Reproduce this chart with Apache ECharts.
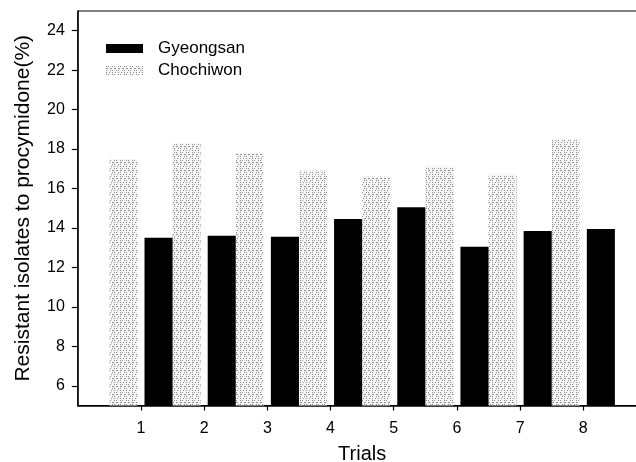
<!DOCTYPE html>
<html>
<head>
<meta charset="utf-8">
<script src="https://cdn.jsdelivr.net/npm/echarts@6/dist/echarts.min.js"></script>
<style>
html,body{margin:0;padding:0;background:#fff;}
#chart{width:636px;height:462px;}
</style>
</head>
<body>
<div id="chart"></div>
<script>
// Data
const trials = ['1', '2', '3', '4', '5', '6', '7', '8'];
const gyeongsan = [13.5, 13.6, 13.55, 14.45, 15.05, 13.05, 13.85, 13.95];
const chochiwon = [17.5, 18.3, 17.8, 16.9, 16.6, 17.1, 16.7, 18.5];
const yTicks = [6, 8, 10, 12, 14, 16, 18, 20, 22, 24];

// padded category axis: an empty slot at each end
const cats = [''].concat(trials, ['']);
const pad = arr => ['-'].concat(arr, ['-']);

const FONT = 'Liberation Sans, Arial, sans-serif';
const chart = echarts.init(document.getElementById('chart'), null, {renderer: 'canvas'});
chart.setOption({
  backgroundColor: '#ffffff',
  animation: false,
  grid: {
    left: 77.8, top: 11, width: 568.7, height: 394.5,
    outerBoundsMode: 'none',
    containLabel: false,
    show: true, borderColor: '#000', borderWidth: 1, backgroundColor: 'transparent'
  },
  legend: {
    orient: 'vertical', left: 106, top: 40, padding: 0,
    itemWidth: 37, itemHeight: 9, itemGap: 5,
    icon: 'rect',
    data: ['Gyeongsan', 'Chochiwon'],
    textStyle: {fontFamily: FONT, fontSize: 17, color: '#000', padding: [0, 0, 0, 10]}
  },
  xAxis: {
    type: 'category',
    data: cats,
    boundaryGap: false,
    name: 'Trials',
    nameLocation: 'middle',
    nameGap: 39,
    nameTextStyle: {fontFamily: FONT, fontSize: 20, color: '#000'},
    axisLine: {lineStyle: {color: '#000', width: 1.5}},
    axisTick: {show: true, length: 5, lineStyle: {color: '#000', width: 1.2},
      interval: (i, v) => v !== ''},
    axisLabel: {fontFamily: FONT, fontSize: 16, color: '#000', margin: 15, interval: 0},
    splitLine: {show: false}
  },
  yAxis: {
    type: 'value',
    min: 5, max: 25,
    name: 'Resistant isolates to procymidone(%)',
    nameLocation: 'middle',
    nameGap: 44,
    nameTextStyle: {fontFamily: FONT, fontSize: 21, color: '#000'},
    axisLine: {show: true, lineStyle: {color: '#000', width: 1.5}},
    axisTick: {show: true, length: 6, lineStyle: {color: '#000', width: 1.2}, customValues: yTicks},
    axisLabel: {fontFamily: FONT, fontSize: 16, color: '#000', margin: 13, customValues: yTicks},
    splitLine: {show: false}
  },
  series: [
    {
      name: 'Chochiwon',
      type: 'bar',
      data: pad(chochiwon),
      barGap: '25%',
      barCategoryGap: '0%',
      itemStyle: {
        color: '#f6f6f6',
        decal: {
          symbol: 'rect',
          symbolSize: 1,
          color: '#8f8f8f',
          dashArrayX: [[1, 2], [1, 1, 1, 3], [2, 2], [1, 3, 1, 1]],
          dashArrayY: [1, 1],
          rotation: 0
        }
      }
    },
    {
      name: 'Gyeongsan',
      type: 'bar',
      data: pad(gyeongsan),
      barGap: '25%',
      barCategoryGap: '0%',
      itemStyle: {color: '#000'}
    }
  ]
});
</script>
</body>
</html>
